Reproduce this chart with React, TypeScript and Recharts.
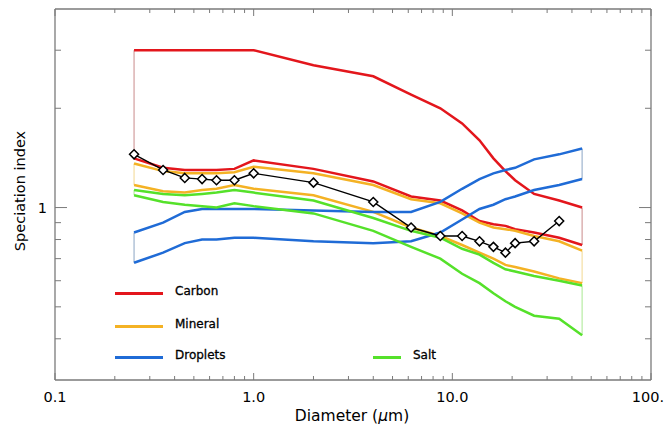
import { Line, LineChart, XAxis, YAxis } from "recharts";

// model size bins (µm) shared by all bands
const diameters = [
  0.25, 0.35, 0.45, 0.55, 0.65, 0.8, 1.0, 2.0, 4.0, 6.2, 8.7, 11.2, 13.7, 16.1,
  18.5, 20.7, 25.8, 34.5, 45,
];

const carbonHigh = [3.0, 3.0, 3.0, 3.0, 3.0, 3.0, 3.0, 2.7, 2.5, 2.2, 2.0, 1.8, 1.6, 1.41, 1.29, 1.21, 1.1, 1.05, 1.0];
const carbonLow = [1.41, 1.32, 1.3, 1.3, 1.3, 1.31, 1.39, 1.31, 1.2, 1.08, 1.05, 0.98, 0.91, 0.89, 0.88, 0.86, 0.84, 0.81, 0.77];
const mineralHigh = [1.36, 1.29, 1.27, 1.27, 1.27, 1.28, 1.33, 1.27, 1.17, 1.06, 1.03, 0.96, 0.9, 0.87, 0.86, 0.85, 0.82, 0.79, 0.74];
const mineralLow = [1.17, 1.12, 1.11, 1.13, 1.14, 1.17, 1.14, 1.09, 0.97, 0.87, 0.82, 0.77, 0.73, 0.7, 0.67, 0.66, 0.64, 0.61, 0.59];
const saltHigh = [1.13, 1.1, 1.09, 1.1, 1.11, 1.13, 1.11, 1.05, 0.93, 0.85, 0.81, 0.75, 0.72, 0.68, 0.65, 0.64, 0.62, 0.6, 0.58];
const saltLow = [1.09, 1.04, 1.02, 1.01, 1.0, 1.03, 1.01, 0.96, 0.85, 0.76, 0.7, 0.63, 0.59, 0.55, 0.52, 0.5, 0.47, 0.46, 0.41];
const dropletsHigh = [0.84, 0.9, 0.97, 0.99, 0.99, 0.99, 0.99, 0.98, 0.97, 0.97, 1.04, 1.14, 1.22, 1.27, 1.3, 1.32, 1.4, 1.45, 1.51];
const dropletsLow = [0.68, 0.73, 0.78, 0.8, 0.8, 0.81, 0.81, 0.79, 0.78, 0.79, 0.84, 0.92, 0.99, 1.02, 1.06, 1.08, 1.13, 1.17, 1.22];

// measured points
const measuredDiameters = [
  0.25, 0.35, 0.45, 0.55, 0.65, 0.8, 1.0, 2.0, 4.0, 6.2, 8.7, 11.2, 13.7, 16.1,
  18.5, 20.7, 25.8, 34.5,
];
const measured = [1.45, 1.3, 1.23, 1.22, 1.21, 1.21, 1.27, 1.19, 1.04, 0.87, 0.82, 0.82, 0.79, 0.76, 0.73, 0.78, 0.79, 0.91];

const xTicks = [
  0.1, 0.2, 0.3, 0.4, 0.5, 0.6, 0.7, 0.8, 0.9, 1, 2, 3, 4, 5, 6, 7, 8, 9, 10,
  20, 30, 40, 50, 60, 70, 80, 90, 100,
];
const xMajor: Record<number, string> = { 0.1: "0.1", 1: "1.0", 10: "10.0", 100: "100." };
const yTicks = [0.4, 0.5, 0.6, 0.7, 0.8, 0.9, 1, 2, 3];
const yMajor: Record<number, string> = { 1: "1" };

const bands = [
  { name: "Carbon", color: "#e3161c", edge: "#c98a8a", hi: carbonHigh, lo: carbonLow },
  { name: "Mineral", color: "#f4b224", edge: "#f2d890", hi: mineralHigh, lo: mineralLow },
  { name: "Droplets", color: "#1f6bd6", edge: "#8aa4c4", hi: dropletsHigh, lo: dropletsLow },
  { name: "Salt", color: "#55e12a", edge: "#a8e890", hi: saltHigh, lo: saltLow },
];

const toPoints = (xs: number[], ys: number[]) => xs.map((d, i) => ({ d, v: ys[i] }));
const last = diameters.length - 1;

const FONT = "'DejaVu Sans', sans-serif";
const AXIS = "#7a7a7a";

function BottomTick({ x, y, payload }: any) {
  const label = xMajor[payload.value];
  const isLast = payload.value === 100;
  return (
    <g>
      <line x1={x} x2={x} y1={y} y2={y - (label ? 7 : 4)} stroke={AXIS} strokeWidth={1} />
      {label && (
        <text
          x={isLast ? 664 : x}
          y={y + 22}
          textAnchor={isLast ? "end" : "middle"}
          fontSize={14.5}
          fontFamily={FONT}
          fill="#000"
        >
          {label}
        </text>
      )}
    </g>
  );
}

function TopTick({ x, y, payload }: any) {
  const major = xMajor[payload.value];
  return <line x1={x} x2={x} y1={y} y2={y + (major ? 7 : 4)} stroke={AXIS} strokeWidth={1} />;
}

function LeftTick({ x, y, payload }: any) {
  const label = yMajor[payload.value];
  return (
    <g>
      <line x1={x} x2={x + (label ? 12 : 6)} y1={y} y2={y} stroke={AXIS} strokeWidth={1} />
      {label && (
        <text x={x - 8} y={y + 5} textAnchor="end" fontSize={14.5} fontFamily={FONT} fill="#000">
          {label}
        </text>
      )}
    </g>
  );
}

function RightTick({ x, y, payload }: any) {
  const major = yMajor[payload.value];
  return <line x1={x} x2={x - (major ? 12 : 6)} y1={y} y2={y} stroke={AXIS} strokeWidth={1} />;
}

function Diamond({ cx, cy }: any) {
  if (cx == null || cy == null) return null;
  const r = 4.5;
  return (
    <polygon
      points={`${cx},${cy - r} ${cx + r},${cy} ${cx},${cy + r} ${cx - r},${cy}`}
      fill="#fff"
      stroke="#000"
      strokeWidth={1.5}
    />
  );
}

const legendRows = [
  { name: "Carbon", color: "#e3161c", x: 115, w: 48, y: 293 },
  { name: "Mineral", color: "#f4b224", x: 115, w: 48, y: 326 },
  { name: "Droplets", color: "#1f6bd6", x: 115, w: 48, y: 357 },
  { name: "Salt", color: "#55e12a", x: 373, w: 28, y: 357 },
];

export default function App() {
  return (
    <div style={{ position: "absolute", left: 0, top: 0, width: 665, height: 430, background: "#fff" }}>
      <LineChart width={665} height={430} margin={{ top: 0, right: 0, bottom: 0, left: 0 }}>
        <XAxis
          xAxisId="bottom"
          dataKey="d"
          type="number"
          scale="log"
          domain={[0.1, 100]}
          ticks={xTicks}
          interval={0}
          allowDataOverflow
          height={50}
          tickSize={0}
          tickMargin={0}
          stroke={AXIS}
          strokeWidth={1.3}
          tick={<BottomTick />}
          label={{
            content: () => (
              <text x={352} y={421} textAnchor="middle" fontSize={15.5} fontFamily={FONT} fill="#000">
                Diameter (<tspan fontStyle="italic">μ</tspan>m)
              </text>
            ),
          }}
        />
        <XAxis
          xAxisId="top"
          orientation="top"
          dataKey="d"
          type="number"
          scale="log"
          domain={[0.1, 100]}
          ticks={xTicks}
          interval={0}
          allowDataOverflow
          height={9}
          tickSize={0}
          tickMargin={0}
          stroke={AXIS}
          strokeWidth={1.3}
          tick={<TopTick />}
        />
        <YAxis
          yAxisId="left"
          type="number"
          scale="log"
          domain={[0.3, 4]}
          ticks={yTicks}
          interval={0}
          allowDataOverflow
          width={55}
          tickSize={0}
          tickMargin={0}
          stroke={AXIS}
          strokeWidth={1.3}
          tick={<LeftTick />}
          label={{
            content: () => (
              <text
                x={20}
                y={191}
                transform="rotate(-90 20 191)"
                textAnchor="middle"
                dominantBaseline="central"
                fontSize={14.5}
                fontFamily={FONT}
                fill="#000"
              >
                Speciation index
              </text>
            ),
          }}
        />
        <YAxis
          yAxisId="right"
          orientation="right"
          type="number"
          scale="log"
          domain={[0.3, 4]}
          ticks={yTicks}
          interval={0}
          allowDataOverflow
          width={14}
          tickSize={0}
          tickMargin={0}
          stroke={AXIS}
          strokeWidth={1.3}
          tick={<RightTick />}
        />

        {bands.map((b) => (
          <Line
            key={b.name + "-l"}
            xAxisId="bottom"
            yAxisId="left"
            data={[
              { d: diameters[0], v: b.hi[0] },
              { d: diameters[0], v: b.lo[0] },
            ]}
            dataKey="v"
            stroke={b.edge}
            strokeWidth={1}
            dot={false}
            isAnimationActive={false}
          />
        ))}
        {bands.map((b) => (
          <Line
            key={b.name + "-r"}
            xAxisId="bottom"
            yAxisId="left"
            data={[
              { d: diameters[last], v: b.hi[last] },
              { d: diameters[last], v: b.lo[last] },
            ]}
            dataKey="v"
            stroke={b.edge}
            strokeWidth={1}
            dot={false}
            isAnimationActive={false}
          />
        ))}
        {bands.flatMap((b) => [
          <Line
            key={b.name + "-hi"}
            xAxisId="bottom"
            yAxisId="left"
            data={toPoints(diameters, b.hi)}
            dataKey="v"
            stroke={b.color}
            strokeWidth={2.5}
            dot={false}
            isAnimationActive={false}
          />,
          <Line
            key={b.name + "-lo"}
            xAxisId="bottom"
            yAxisId="left"
            data={toPoints(diameters, b.lo)}
            dataKey="v"
            stroke={b.color}
            strokeWidth={2.5}
            dot={false}
            isAnimationActive={false}
          />,
        ])}
        <Line
          xAxisId="bottom"
          yAxisId="left"
          data={toPoints(measuredDiameters, measured)}
          dataKey="v"
          stroke="#000"
          strokeWidth={1.4}
          dot={<Diamond />}
          isAnimationActive={false}
        />
      </LineChart>

      {legendRows.map((r) => (
        <div key={r.name}>
          <div
            style={{
              position: "absolute",
              left: r.x,
              top: r.y - 1.5,
              width: r.w,
              height: 3,
              background: r.color,
            }}
          />
          <div
            style={{
              position: "absolute",
              left: r.x + r.w + 12,
              top: r.y - 10,
              lineHeight: "16px",
              fontSize: 12,
              fontFamily: FONT,
              color: "#000",
              WebkitTextStroke: "0.3px #000",
            }}
          >
            {r.name}
          </div>
        </div>
      ))}
    </div>
  );
}
